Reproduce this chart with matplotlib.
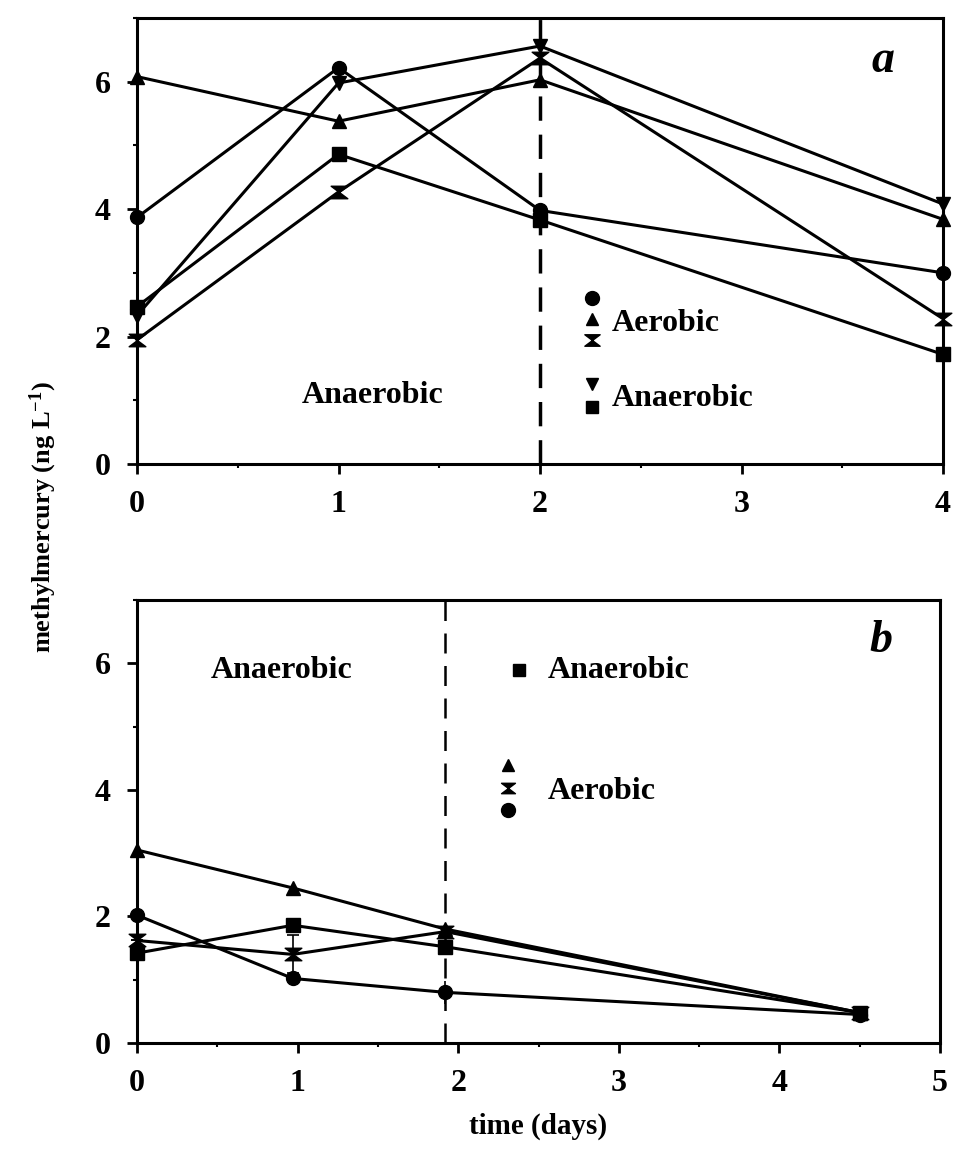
import matplotlib
matplotlib.use("Agg")
import matplotlib.pyplot as plt
import numpy as np
from matplotlib.path import Path

# ---------------- data ----------------
# panel a
a_x = [0, 1, 2, 4]
a_circle = [3.87, 6.22, 3.98, 3.00]
a_triangle = [6.08, 5.38, 6.03, 3.84]
a_hourglass = [1.95, 4.27, 6.37, 2.28]
a_tridown = [2.33, 5.98, 6.56, 4.08]
a_square = [2.47, 4.86, 3.83, 1.72]

# panel b
b_x = [0, 0.97, 1.92, 4.5]
b_triangle = [3.05, 2.45, 1.80, 0.48]
b_circle = [2.02, 1.02, 0.80, 0.45]
b_square = [1.42, 1.86, 1.52, 0.48]
b_hourglass = [1.62, 1.40, 1.76, 0.48]
b_hourglass_err = [0, 0.30, 0, 0]
b_circle_err = [0, 0, 0.18, 0]

a_xticks = [0, 1, 2, 3, 4]
b_xticks = [0, 1, 2, 3, 4, 5]
yticks = [0, 2, 4, 6]

# ---------------- style ----------------
plt.rcParams['font.family'] = ['Liberation Serif', 'DejaVu Serif']
plt.rcParams['font.weight'] = 'bold'
plt.rcParams['mathtext.default'] = 'regular'

h = 0.75
hour_path = Path(
    [(-1, h), (1, h), (0, 0), (-1, h), (-1, -h), (1, -h), (0, 0), (-1, -h)],
    [Path.MOVETO, Path.LINETO, Path.LINETO, Path.CLOSEPOLY,
     Path.MOVETO, Path.LINETO, Path.LINETO, Path.CLOSEPOLY])

LW = 2.2
MS = 10
TFS = 23
LFS = 23

fig = plt.figure(figsize=(9.6, 11.6), dpi=100)
axa = fig.add_axes([137/960, 1-464/1160, 806/960, 446/1160])
axb = fig.add_axes([137/960, 1-1043/1160, 803/960, 443/1160])


def style(ax, xlim, xticks):
    ax.set_xlim(*xlim)
    ax.set_ylim(0, 7)
    ax.set_xticks(xticks)
    ax.set_yticks(yticks)
    ax.set_xticks(np.arange(xlim[0], xlim[1] + 0.01, 0.5), minor=True)
    ax.set_yticks([1, 3, 5, 7], minor=True)
    ax.tick_params(which='major', direction='out', length=7, width=2,
                   labelsize=TFS, pad=12)
    ax.tick_params(which='minor', direction='out', length=3, width=1.5)
    for s in ax.spines.values():
        s.set_linewidth(2.2)
    for lab in ax.get_xticklabels() + ax.get_yticklabels():
        lab.set_fontweight('bold')


# panel a
kw = dict(color='black', lw=LW, ms=MS, clip_on=False, zorder=3)
axa.plot(a_x, a_circle, marker='o', **kw)
axa.plot(a_x, a_triangle, marker='^', **kw)
axa.plot(a_x, a_hourglass, marker=hour_path, **dict(kw, ms=12))
axa.plot(a_x, a_tridown, marker='v', **kw)
axa.plot(a_x, a_square, marker='s', **kw)
axa.axvline(2, color='black', lw=2.5, ls=(0, (7, 4)), zorder=2)
style(axa, (0, 4), a_xticks)

axa.text(1.17, 1.07, 'Anaerobic', fontsize=LFS, fontweight='bold', ha='center', va='center')
lx = 2.26
axa.plot([lx], [2.6], marker='o', color='black', ms=10, clip_on=False)
axa.plot([lx], [2.28], marker='^', color='black', ms=9)
axa.plot([lx], [1.95], marker=hour_path, color='black', ms=11)
axa.plot([lx], [1.25], marker='v', color='black', ms=9)
axa.plot([lx], [0.9], marker='s', color='black', ms=9)
axa.text(2.355, 2.2, 'Aerobic', fontsize=LFS, fontweight='bold', ha='left', va='center')
axa.text(2.355, 1.03, 'Anaerobic', fontsize=LFS, fontweight='bold', ha='left', va='center')
axa.text(3.70, 6.33, 'a', fontsize=33, fontweight='bold', style='italic',
         ha='center', va='center')

# panel b
axb.errorbar(b_x, b_triangle, marker='^', **kw)
axb.errorbar(b_x, b_square, marker='s', **kw)
axb.errorbar(b_x, b_hourglass, yerr=b_hourglass_err, marker=hour_path,
             capsize=4, elinewidth=1.2, capthick=1.2, **dict(kw, ms=12))
axb.errorbar(b_x, b_circle, yerr=b_circle_err, marker='o',
             capsize=0, elinewidth=1.2, **kw)
axb.axvline(1.92, color='black', lw=1.8, ls=(0, (8, 5)), zorder=2)
style(axb, (0, 5), b_xticks)

axb.text(0.90, 5.88, 'Anaerobic', fontsize=LFS, fontweight='bold', ha='center', va='center')
axb.plot([2.38], [5.9], marker='s', color='black', ms=9)
axb.text(2.56, 5.88, 'Anaerobic', fontsize=LFS, fontweight='bold', ha='left', va='center')
axb.plot([2.31], [4.4], marker='^', color='black', ms=9)
axb.plot([2.31], [4.03], marker=hour_path, color='black', ms=10)
axb.plot([2.31], [3.68], marker='o', color='black', ms=10)
axb.text(2.56, 3.98, 'Aerobic', fontsize=LFS, fontweight='bold', ha='left', va='center')
axb.text(4.63, 6.36, 'b', fontsize=33, fontweight='bold', style='italic',
         ha='center', va='center')

axb.set_xlabel('time (days)', fontsize=21, fontweight='bold', labelpad=10)
fig.text(43/960, 1-517/1160, 'methylmercury (ng L$^{-1}$)', rotation=90,
         fontsize=19, fontweight='bold', ha='center', va='center')

fig.savefig('out.png', dpi=100)
